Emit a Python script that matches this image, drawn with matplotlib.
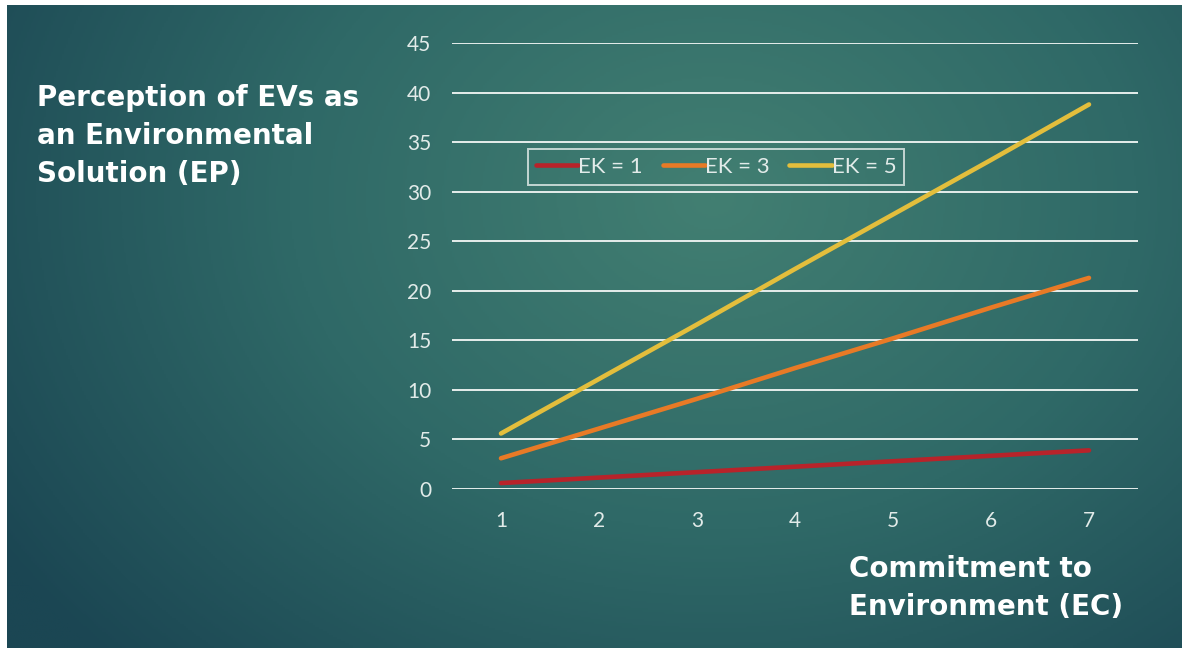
import numpy as np
import matplotlib.pyplot as plt
from matplotlib.colors import LinearSegmentedColormap

# Commitment to environment (x) and predicted perception for three knowledge levels
ec = [1, 2, 3, 4, 5, 6, 7]
ek1 = [0.6, 1.15, 1.7, 2.25, 2.8, 3.35, 3.9]
ek3 = [3.1, 6.1, 9.1, 12.2, 15.2, 18.3, 21.3]
ek5 = [5.6, 11.1, 16.6, 22.2, 27.7, 33.2, 38.8]
series_labels = ['EK = 1', 'EK = 3', 'EK = 5']
series_colors = ['#B8232A', '#E87A26', '#E3BE3C']
yticks = [0, 5, 10, 15, 20, 25, 30, 35, 40, 45]

fig = plt.figure(figsize=(11.82, 6.48), dpi=100)
fig.patch.set_facecolor('white')

# teal slide background with a soft radial glow
bg = fig.add_axes([7 / 1182, 0, 1 - 7 / 1182, 1 - 5 / 648])
bg.set_axis_off()
h, w = 324, 590
yy, xx = np.mgrid[0:h, 0:w]
cx, cy = 0.6 * w, 0.3 * h
r = np.sqrt(((xx - cx) / w) ** 2 + ((yy - cy) / h * 0.7) ** 2)
r = np.clip(r / 0.72, 0, 1)
cmap = LinearSegmentedColormap.from_list('slide', ['#427F72', '#2F6967', '#1B4653'])
bg.imshow(r, cmap=cmap, aspect='auto', extent=[0, 1, 0, 1], origin='upper')
bg.set_xlim(0, 1)
bg.set_ylim(0, 1)

ax = fig.add_axes([452 / 1182, 1 - 489 / 648, (1138 - 452) / 1182, (489 - 43) / 648])
ax.patch.set_alpha(0)
for s in ax.spines.values():
    s.set_visible(False)

for vals, lab, col in zip([ek1, ek3, ek5], series_labels, series_colors):
    ax.plot(ec, vals, color=col, lw=3.3, label=lab, solid_capstyle='round')

ax.set_xlim(0.5, 7.5)
ax.set_ylim(0, 45)
ax.set_yticks(yticks)
ax.set_xticks(ec)
ax.yaxis.grid(True, color='#E6EEEC', lw=1.4)
ax.set_axisbelow(True)
ax.tick_params(length=0, colors='#E2EBE9', labelsize=15, pad=16)
ax.tick_params(axis='y', pad=15)
for t in ax.get_xticklabels() + ax.get_yticklabels():
    t.set_fontfamily('Lato')

leg = ax.legend(loc='upper left', bbox_to_anchor=(76 / 686, 1 - 106 / 446), ncol=3,
                frameon=True, fancybox=False, handlelength=1.9, handletextpad=0.0,
                columnspacing=0.9, borderpad=0.35, borderaxespad=0,
                prop={'family': 'Lato', 'size': 16})
leg.get_frame().set_facecolor('none')
leg.get_frame().set_edgecolor('#E6EEEC')
leg.get_frame().set_linewidth(1.4)
for t in leg.get_texts():
    t.set_color('#E2EBE9')

fig.text(37 / 1182, 1 - 84 / 648, 'Perception of EVs as\nan Environmental\nSolution (EP)',
         color='white', fontsize=20, fontweight='bold', family='DejaVu Sans',
         va='top', ha='left', linespacing=1.45)
fig.text(849 / 1182, 1 - 555 / 648, 'Commitment to\nEnvironment (EC)',
         color='white', fontsize=20, fontweight='bold', family='DejaVu Sans',
         va='top', ha='left', linespacing=1.45)

fig.savefig('out.png', dpi=100)
